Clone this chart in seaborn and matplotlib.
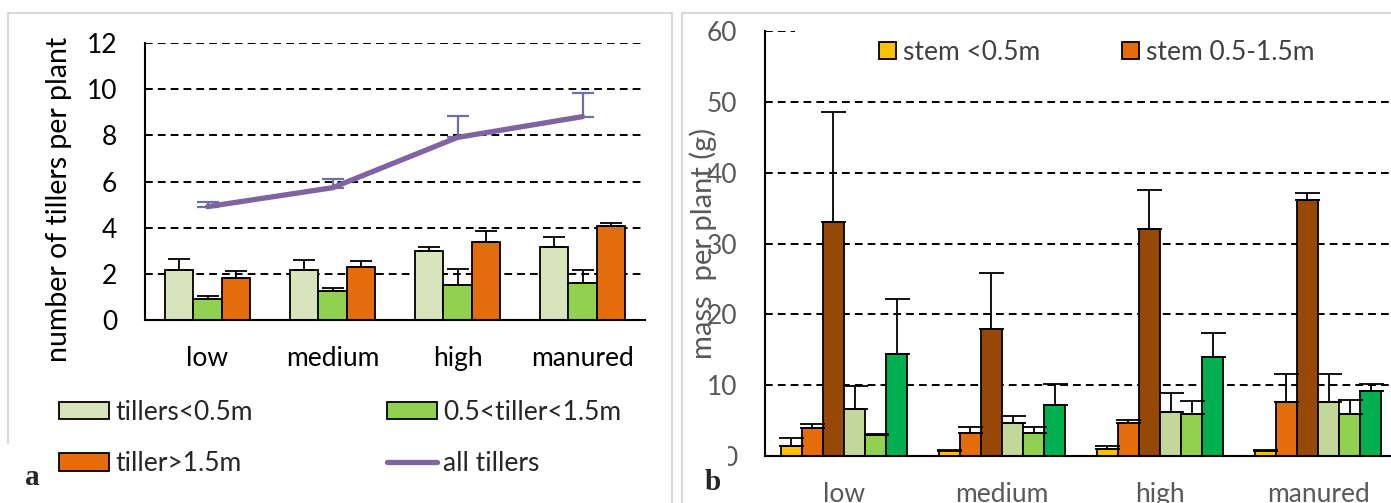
"""Tillers per plant (a) and stem/leaf mass per plant (b), by fertiliser level."""

import matplotlib

matplotlib.use("Agg")

import matplotlib.pyplot as plt
import numpy as np
import pandas as pd
import seaborn as sns
from matplotlib.lines import Line2D
from matplotlib.patches import Patch, Rectangle

CATEGORIES = ["low", "medium", "high", "manured"]

# panel a: number of tillers per plant (mean, upper error)
TILLER_SERIES = ["tillers<0.5m", "0.5<tiller<1.5m", "tiller>1.5m"]
tillers_short = [2.17, 2.18, 2.97, 3.15]
tillers_short_err = [0.46, 0.40, 0.19, 0.45]
tillers_mid = [0.91, 1.26, 1.50, 1.59]
tillers_mid_err = [0.14, 0.11, 0.71, 0.59]
tillers_tall = [1.83, 2.30, 3.38, 4.09]
tillers_tall_err = [0.29, 0.26, 0.49, 0.11]
tillers_all = [4.91, 5.73, 7.91, 8.81]
tillers_all_err = [0.22, 0.36, 0.94, 1.01]
TILLER_COLORS = ["#D8E4BC", "#92D050", "#E46C0A"]
ALL_TILLERS_LABEL = "all tillers"
ALL_TILLERS_COLOR = "#8064A2"

# panel b: mass per plant in grams (mean, upper error)
MASS_SERIES = ["stem <0.5m", "stem 0.5-1.5m", "stem >1.5m",
               "leaf <0.5m", "leaf 0.5-1.5m", "leaf >1.5m"]
stem_short = [1.4, 0.75, 0.94, 0.7]
stem_short_err = [1.2, 0.1, 0.5, 0.15]
stem_mid = [3.9, 3.3, 4.6, 7.6]
stem_mid_err = [0.6, 0.75, 0.5, 4.0]
stem_tall = [33.0, 17.9, 32.1, 36.2]
stem_tall_err = [15.6, 7.9, 5.5, 0.9]
leaf_short = [6.7, 4.7, 6.2, 7.6]
leaf_short_err = [3.2, 0.9, 2.65, 4.0]
leaf_mid = [3.0, 3.2, 6.0, 6.0]
leaf_mid_err = [0.1, 0.85, 1.7, 1.9]
leaf_tall = [14.4, 7.15, 14.0, 9.2]
leaf_tall_err = [7.7, 3.05, 3.4, 1.0]
MASS_COLORS = ["#FFC000", "#E46C0A", "#974706", "#C4D79B", "#92D050", "#00B050"]
MASS_LEGEND_SHOWN = 2

FONT = ["Lato", "DejaVu Sans"]
DASH = (0, (4, 2.6))


def long_frame(series_names, values):
    rows = []
    for name, vals in zip(series_names, values):
        for cat, v in zip(CATEGORIES, vals):
            rows.append({"treatment": cat, "series": name, "value": v})
    return pd.DataFrame(rows)


def add_errors(ax, errors, cap):
    for container, err in zip(ax.containers, errors):
        xs = [b.get_x() + b.get_width() / 2 for b in container]
        ys = [b.get_height() for b in container]
        ax.errorbar(xs, ys, yerr=[np.zeros(len(err)), err], fmt="none",
                    ecolor="black", elinewidth=1.3, capsize=cap, capthick=1.3, zorder=3)


def style_axis(ax, tick_color):
    sns.despine(ax=ax)
    for side in ("left", "bottom"):
        ax.spines[side].set_color("black")
        ax.spines[side].set_linewidth(1.5)
    ax.set_axisbelow(True)
    ax.yaxis.grid(True, color="black", linestyle=DASH, linewidth=1.4)
    ax.xaxis.grid(False)
    n = len(CATEGORIES)
    ax.set_xlim(-0.5, n - 0.5)
    ax.set_xticks(np.arange(n))
    ax.set_xticklabels(CATEGORIES)
    ax.set_xticks(np.arange(n + 1) - 0.5, minor=True)
    ax.tick_params(axis="x", which="major", length=0, pad=19, labelsize=19, colors=tick_color)
    ax.tick_params(axis="x", which="minor", length=7, width=1.5, color="black", direction="out")
    ax.tick_params(axis="y", length=0, pad=20, labelsize=19, colors=tick_color)
    ax.set_xlabel("")


def plot_tillers(fig):
    ax = fig.add_axes([145 / 1391, 1 - 320 / 503, 500 / 1391, 277 / 503])
    df = long_frame(TILLER_SERIES, [tillers_short, tillers_mid, tillers_tall])
    sns.barplot(data=df, x="treatment", y="value", hue="series", order=CATEGORIES,
                hue_order=TILLER_SERIES, palette=TILLER_COLORS, saturation=1, width=0.68,
                edgecolor="black", linewidth=1.3, errorbar=None, legend=False, ax=ax)
    add_errors(ax, [tillers_short_err, tillers_mid_err, tillers_tall_err], cap=8)

    pos = np.arange(len(CATEGORIES))
    ax.errorbar(pos, tillers_all, yerr=[np.zeros(len(pos)), tillers_all_err], fmt="none",
                ecolor="#6F6FA8", elinewidth=1.6, capsize=8, capthick=1.6, zorder=4)
    sns.lineplot(x=pos, y=tillers_all, color=ALL_TILLERS_COLOR, linewidth=3.8,
                 solid_capstyle="round", ax=ax, zorder=5)

    style_axis(ax, "black")
    ax.set_ylim(0, 12)
    ax.set_yticks(np.arange(0, 13, 2))
    ax.set_ylabel("number of tillers per plant", fontsize=20.5, color="black")
    ax.yaxis.set_label_coords(-0.146, 0.437)

    patches = [Patch(facecolor=c, edgecolor="black", linewidth=1.3) for c in TILLER_COLORS]
    line = Line2D([], [], color=ALL_TILLERS_COLOR, linewidth=3.8, solid_capstyle="round")
    # two columns, filled row by row as in the reference
    handles = [patches[0], patches[2], patches[1], line]
    labels = [TILLER_SERIES[0], TILLER_SERIES[2], TILLER_SERIES[1], ALL_TILLERS_LABEL]
    fig.legend(handles, labels, ncol=2, loc="upper left", bbox_to_anchor=(59 / 1391, 1 - 400 / 503),
               frameon=False, fontsize=19, borderpad=0, borderaxespad=0,
               handlelength=1.9, handleheight=0.64, handletextpad=0.23,
               columnspacing=5.1, labelspacing=1.0)


def plot_mass(fig):
    ax = fig.add_axes([765 / 1391, 1 - 456 / 503, 632 / 1391, 425 / 503])
    values = [stem_short, stem_mid, stem_tall, leaf_short, leaf_mid, leaf_tall]
    errors = [stem_short_err, stem_mid_err, stem_tall_err,
              leaf_short_err, leaf_mid_err, leaf_tall_err]
    df = long_frame(MASS_SERIES, values)
    sns.barplot(data=df, x="treatment", y="value", hue="series", order=CATEGORIES,
                hue_order=MASS_SERIES, palette=MASS_COLORS, saturation=1, width=0.8,
                edgecolor="black", linewidth=1.3, errorbar=None, legend=False, ax=ax)
    add_errors(ax, errors, cap=9)

    style_axis(ax, "#595959")
    ax.set_ylim(0, 60)
    ax.set_yticks(np.arange(0, 61, 10))
    ax.set_ylabel("mass  per plant (g)", fontsize=21, color="#595959")
    ax.yaxis.set_label_coords(-0.076, 0.499)

    # white legend area hides the top gridline
    ax.add_patch(Rectangle((0.047, 0.9), 1.0, 0.15, transform=ax.transAxes,
                           facecolor="white", edgecolor="none", zorder=1, clip_on=False))
    handles = [Patch(facecolor=c, edgecolor="black", linewidth=1.3)
               for c in MASS_COLORS[:MASS_LEGEND_SHOWN]]
    leg = fig.legend(handles, MASS_SERIES[:MASS_LEGEND_SHOWN], ncol=2, loc="upper left",
                     bbox_to_anchor=(879 / 1391, 1 - 40 / 503), frameon=False, fontsize=19,
                     borderpad=0, borderaxespad=0, handlelength=0.64, handleheight=0.64,
                     handletextpad=0.27, columnspacing=3.1)
    for t in leg.get_texts():
        t.set_color("#404040")


def decorate(fig):
    grey = "#D9D9D9"
    top = 1 - 13 / 503
    for xs, ys in [((8 / 1391, 672 / 1391), (top, top)),
                   ((682 / 1391, 1.0), (top, top)),
                   ((8 / 1391, 8 / 1391), (top, 1 - 443 / 503)),
                   ((672 / 1391, 672 / 1391), (top, 0)),
                   ((682 / 1391, 682 / 1391), (top, 0))]:
        fig.add_artist(Line2D(xs, ys, color=grey, linewidth=1.5, transform=fig.transFigure))
    fig.patches.append(Rectangle((684 / 1391, 1 - 475 / 503), 44 / 1391, 35 / 503,
                                 transform=fig.transFigure, facecolor="white",
                                 edgecolor="none", zorder=2))
    serif = ["Liberation Serif", "DejaVu Serif"]
    fig.text(25 / 1391, 1 - 485 / 503, "a", fontsize=21, fontweight="bold", family=serif)
    fig.text(705 / 1391, 1 - 490 / 503, "b", fontsize=21, fontweight="bold", family=serif, zorder=3)


def main() -> None:
    sns.set_theme(style="white")
    plt.rcParams["font.family"] = FONT
    fig = plt.figure(figsize=(13.91, 5.03), dpi=100)
    plot_tillers(fig)
    plot_mass(fig)
    decorate(fig)
    fig.savefig("out.png", dpi=100, facecolor="white")


if __name__ == "__main__":
    main()
